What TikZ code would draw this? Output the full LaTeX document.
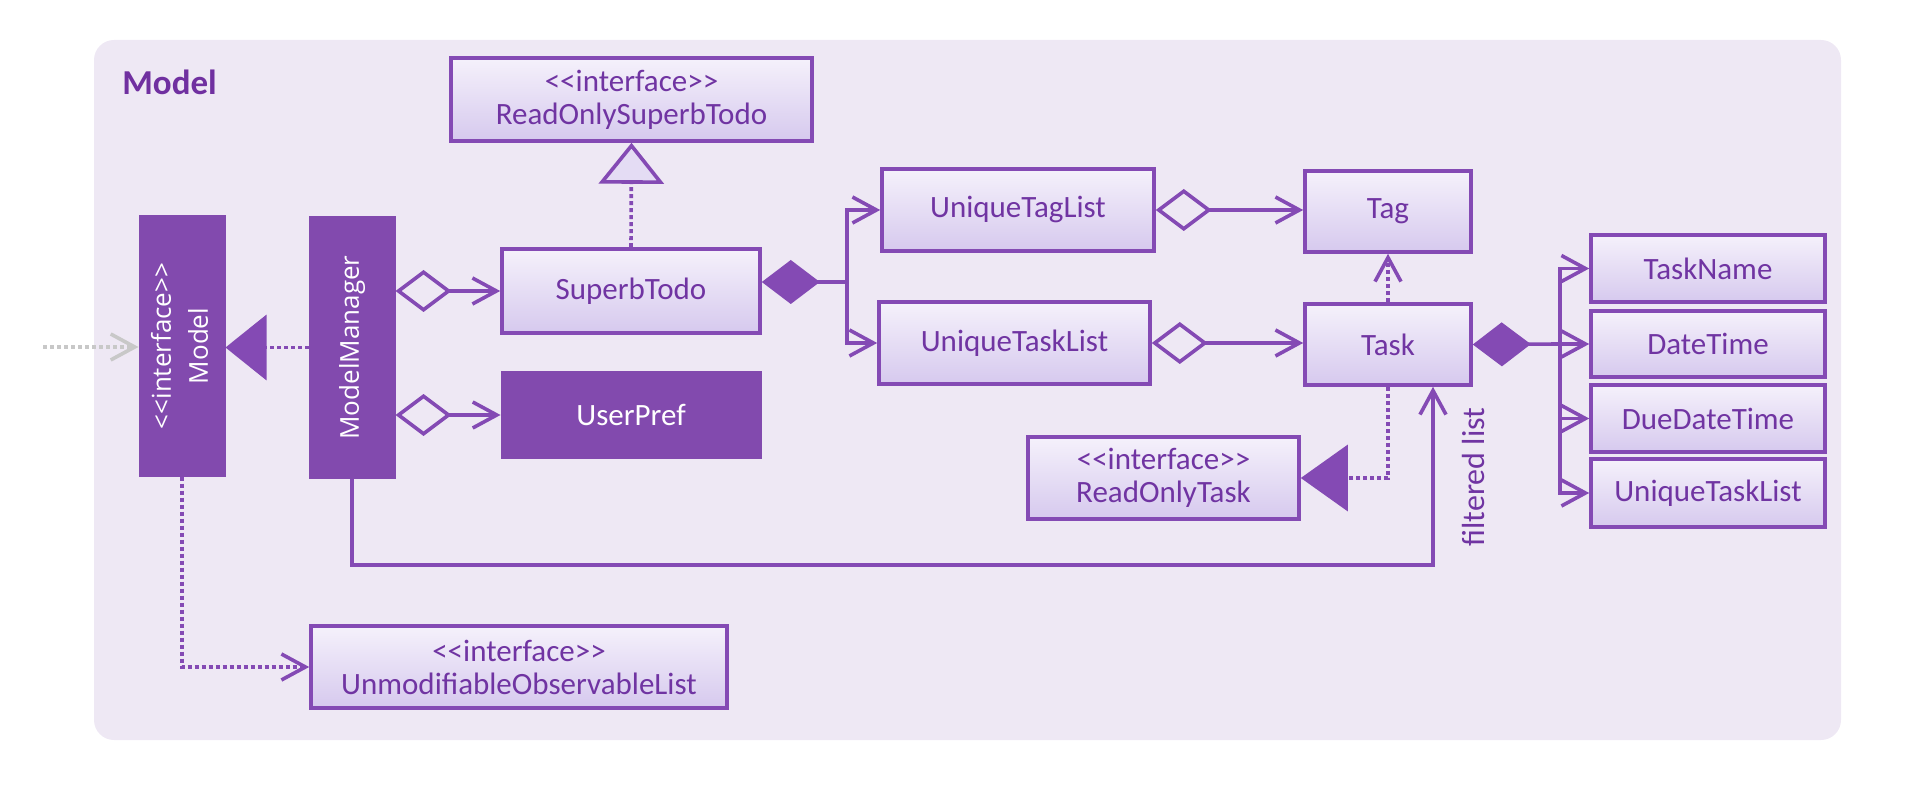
\documentclass[tikz,border=0pt]{standalone}
\usepackage{fontspec}
\usepackage{graphicx}
\setmainfont{Carlito}
\newfontfamily\vfont{Open Sans}
\usetikzlibrary{arrows.meta}
\definecolor{bgcol}{RGB}{238,232,244}
\definecolor{umlline}{RGB}{132,74,180}
\definecolor{umlfill}{RGB}{130,74,174}
\definecolor{umltext}{RGB}{112,52,162}
\definecolor{boxtop}{RGB}{245,241,251}
\definecolor{boxbot}{RGB}{214,201,238}
\definecolor{boxmid}{RGB}{228,220,244}
\definecolor{titlecol}{RGB}{112,48,160}
\definecolor{greyarrow}{RGB}{200,200,200}
\newcommand{\ilt}{\textless\kern0pt\textless\kern0pt interface\kern0pt\textgreater\kern0pt\textgreater}
\begin{document}
\begin{tikzpicture}[x=0.5pt,y=-0.5pt,
  umlbox/.style={draw=umlline, line width=1.8pt, top color=boxtop, bottom color=boxbot, inner sep=0pt, align=center, text=umltext, font=\fontsize{15.5pt}{16.5pt}\selectfont},
  fillbox/.style={draw=umlfill, fill=umlfill, line width=1.5pt, inner sep=0pt, align=center, text=white, font=\fontsize{15.5pt}{16.5pt}\selectfont},
  conn/.style={draw=umlline, line width=1.8pt},
  dotl/.style={conn, dash pattern=on 2pt off 1.5pt},
  openend/.style={-{Straight Barb[length=12pt,width=13pt]}},
  aggarrow/.style={{Diamond[open,length=28pt,width=21pt,fill=bgcol]}-{Straight Barb[length=12pt,width=13pt]}},
  compstart/.style={{Diamond[length=29pt,width=22pt]}-},
  realopen/.style={-{Triangle[length=20.5pt,width=32.5pt,fill=boxmid]}},
  realfill/.style={-{Triangle[length=20.5pt,width=32.5pt]}},
  realfillb/.style={-{Triangle[length=23.5pt,width=33pt]}}
]
\useasboundingbox (0,0) rectangle (1918,802);
\fill[bgcol, rounded corners=10pt] (94,40) rectangle (1841,740);

\node[anchor=base west, text=titlecol, font=\bfseries\fontsize{17.5pt}{20pt}\selectfont, inner sep=0pt] (title) at (122,95) {Model};

\node[umlbox, minimum width=180.5pt, minimum height=41.5pt] (rost) at (631.5,99.5) {\ilt\\ReadOnlySuperbTodo};
\node[umlbox, minimum width=129pt, minimum height=42pt] (st) at (631,291) {SuperbTodo};
\node[fillbox, minimum width=129pt, minimum height=42pt] (up) at (631,415) {UserPref};
\node[fillbox, minimum width=42pt, minimum height=129pt] (model) at (182,346)
  {\rotatebox{90}{\vfont\fontsize{13pt}{18.5pt}\selectfont\begin{tabular}{@{}c@{}}\textless\textless interface\textgreater\textgreater\\Model\end{tabular}}};
\node[fillbox, minimum width=42pt, minimum height=129.5pt] (mm) at (352,347.5)
  {\rotatebox{90}{\vfont\fontsize{13pt}{18.5pt}\selectfont ModelManager}};
\node[umlbox, minimum width=136pt, minimum height=41pt] (utl) at (1018,210) {UniqueTagList};
\node[umlbox, minimum width=135.5pt, minimum height=41pt] (utkl) at (1014.5,343) {UniqueTaskList};
\node[umlbox, minimum width=83pt, minimum height=40.5pt] (tag) at (1388,211.5) {Tag};
\node[umlbox, minimum width=83pt, minimum height=40.5pt] (task) at (1388,344.5) {Task};
\node[umlbox, minimum width=135.5pt, minimum height=41pt] (rot) at (1163.5,478) {\ilt\\ReadOnlyTask};
\node[umlbox, minimum width=117pt, minimum height=33.5pt] (tn) at (1708,268.5) {TaskName};
\node[umlbox, minimum width=117pt, minimum height=33pt] (dt) at (1708,344) {DateTime};
\node[umlbox, minimum width=117pt, minimum height=33.5pt] (ddt) at (1708,418.5) {DueDateTime};
\node[umlbox, minimum width=117pt, minimum height=34pt] (utl2) at (1708,493) {UniqueTaskList};
\node[umlbox, minimum width=208pt, minimum height=41pt] (uol) at (519,667) {\ilt\\UnmodifiableObservableList};
\node[rotate=90, text=umltext, font=\fontsize{16pt}{18pt}\selectfont, inner sep=0pt] (fltxt) at (1473,477) {filtered list};

% connectors
\coordinate (ext) at (43,347);
\draw[draw=greyarrow, line width=1.8pt, dash pattern=on 2pt off 1.5pt, openend] (ext) -- (model.west |- ext);
\draw[dotl, realfill] (mm.west) -- (mm.west -| model.east);
\draw[conn, aggarrow] (mm.east |- st.west) -- (st.west);
\draw[conn, aggarrow] (mm.east |- up.west) -- (up.west);
\draw[dotl, realopen] (st.north) -- (rost.south);
\draw[dotl, openend] (model.south) |- (uol.west);
\coordinate (fl) at (1433,565);
\draw[conn, openend] (mm.south) |- (fl) -- (fl |- task.south);

\coordinate (bus1) at (847,282);
\draw[conn, compstart] ([yshift=4.5pt]st.east) -- (bus1);
\draw[conn, openend] (bus1) |- (utl.west);
\draw[conn, openend] (bus1) |- (utkl.west);
\draw[conn, aggarrow] (utl.east) -- (utl.east -| tag.west);
\draw[conn, aggarrow] (utkl.east) -- (utkl.east -| task.west);
\draw[dotl, openend] (task.north) -- (tag.south);
\draw[dotl, realfillb] (task.south) |- (rot.east);

\coordinate (bus2) at (1560,344);
\draw[conn, compstart] (task.east) -- (bus2);
\draw[conn, openend] (bus2) |- (tn.west);
\draw[conn, openend] (bus2) -- (dt.west);
\draw[conn, openend] (bus2) |- (ddt.west);
\draw[conn, openend] (bus2) |- (utl2.west);
\end{tikzpicture}
\end{document}
